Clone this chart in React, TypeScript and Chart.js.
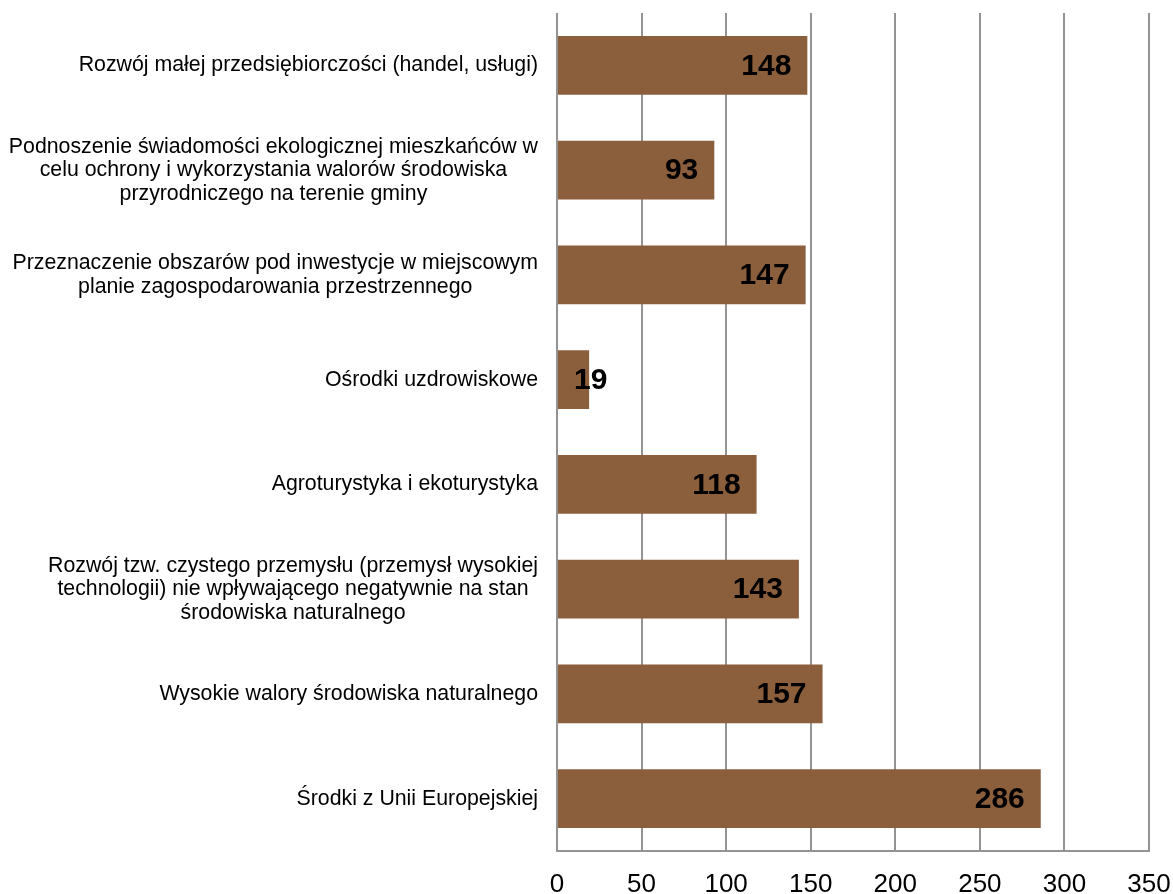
import React, { useEffect, useRef } from "react";
import { Chart, registerables } from "chart.js";

Chart.register(...registerables);

// Category labels, one entry per bar, split into the lines they are printed on
const categoryLines: string[][] = [
  ["Rozwój małej przedsiębiorczości (handel, usługi)"],
  [
    "Podnoszenie świadomości ekologicznej mieszkańców w",
    "celu ochrony i wykorzystania walorów środowiska",
    "przyrodniczego na terenie gminy",
  ],
  [
    "Przeznaczenie obszarów pod inwestycje w miejscowym",
    "planie zagospodarowania przestrzennego",
  ],
  ["Ośrodki uzdrowiskowe"],
  ["Agroturystyka i ekoturystyka"],
  [
    "Rozwój tzw. czystego przemysłu (przemysł wysokiej",
    "technologii) nie wpływającego negatywnie na stan",
    "środowiska naturalnego",
  ],
  ["Wysokie walory środowiska naturalnego"],
  ["Środki z Unii Europejskiej"],
];

const responses: number[] = [148, 93, 147, 19, 118, 143, 157, 286];

const axisMin = 0;
const axisMax = 350;
const axisStep = 50;

const FONT = "'Liberation Sans', Arial, Helvetica, sans-serif";
const BAR_COLOR = "#8B5E3C";
const GRID_COLOR = "#939393";

// Draws the multi-line category names: lines centred within a block,
// blocks right-aligned against the value axis.
const categoryLabelPlugin = {
  id: "categoryLabels",
  afterDraw(chart: any) {
    const { ctx, chartArea } = chart;
    const yScale = chart.scales.y;
    const fontSize = 21.3;
    const lineHeight = 23.5;
    ctx.save();
    ctx.font = `${fontSize}px ${FONT}`;
    ctx.fillStyle = "#000";
    ctx.textAlign = "center";
    ctx.textBaseline = "middle";
    categoryLines.forEach((lines, i) => {
      const widest = Math.max(...lines.map((l) => ctx.measureText(l).width));
      const cx = chartArea.left - 19 - widest / 2;
      const cy = yScale.getPixelForValue(i);
      const startY = cy - ((lines.length - 1) * lineHeight) / 2;
      lines.forEach((line, j) => {
        ctx.fillText(line, cx, startY + j * lineHeight);
      });
    });
    ctx.restore();
  },
};

// Value labels near the end of each bar; pushed past a bar that is too short.
const valueLabelPlugin = {
  id: "valueLabels",
  afterDatasetsDraw(chart: any) {
    const { ctx } = chart;
    const meta = chart.getDatasetMeta(0);
    ctx.save();
    ctx.font = `bold 30px ${FONT}`;
    ctx.fillStyle = "#000";
    ctx.textAlign = "right";
    ctx.textBaseline = "middle";
    meta.data.forEach((bar: any, i: number) => {
      const text = String(responses[i]);
      const w = ctx.measureText(text).width;
      const right = Math.max(bar.x - 16, bar.base + 16 + w);
      ctx.fillText(text, right, bar.y + 1);
    });
    ctx.restore();
  },
};

export default function App() {
  const canvasRef = useRef<HTMLCanvasElement | null>(null);

  useEffect(() => {
    const canvas = canvasRef.current;
    if (!canvas) return;
    const chart = new Chart(canvas, {
      type: "bar",
      data: {
        labels: categoryLines.map((l) => l.join(" ")),
        datasets: [
          {
            data: responses,
            backgroundColor: BAR_COLOR,
            borderWidth: 0,
            barPercentage: 0.563,
            categoryPercentage: 1,
          },
        ],
      },
      options: {
        indexAxis: "y",
        responsive: false,
        animation: false,
        devicePixelRatio: 1,
        layout: { padding: { top: 13, right: 24, left: 0, bottom: 0 } },
        plugins: {
          legend: { display: false },
          tooltip: { enabled: false },
        },
        scales: {
          x: {
            position: "bottom",
            min: axisMin,
            max: axisMax,
            ticks: {
              stepSize: axisStep,
              color: "#000",
              padding: 18,
              font: { family: FONT, size: 26 },
            },
            grid: {
              color: GRID_COLOR,
              lineWidth: 2,
              drawTicks: false,
            },
            border: { display: true, color: GRID_COLOR, width: 2 },
            afterFit(scale: any) {
              scale.height = 43;
              scale.paddingLeft = 0;
              scale.paddingRight = 0;
            },
          },
          y: {
            ticks: { display: false },
            grid: { display: false, drawTicks: false },
            border: { display: false },
            afterFit(scale: any) {
              scale.width = 557;
            },
          },
        },
      },
      plugins: [categoryLabelPlugin, valueLabelPlugin],
    });
    return () => chart.destroy();
  }, []);

  return (
    <div
      style={{
        position: "fixed",
        left: 0,
        top: 0,
        width: 1173,
        height: 894,
        overflow: "hidden",
        background: "#fff",
      }}
    >
      <canvas ref={canvasRef} width={1173} height={894} />
    </div>
  );
}
